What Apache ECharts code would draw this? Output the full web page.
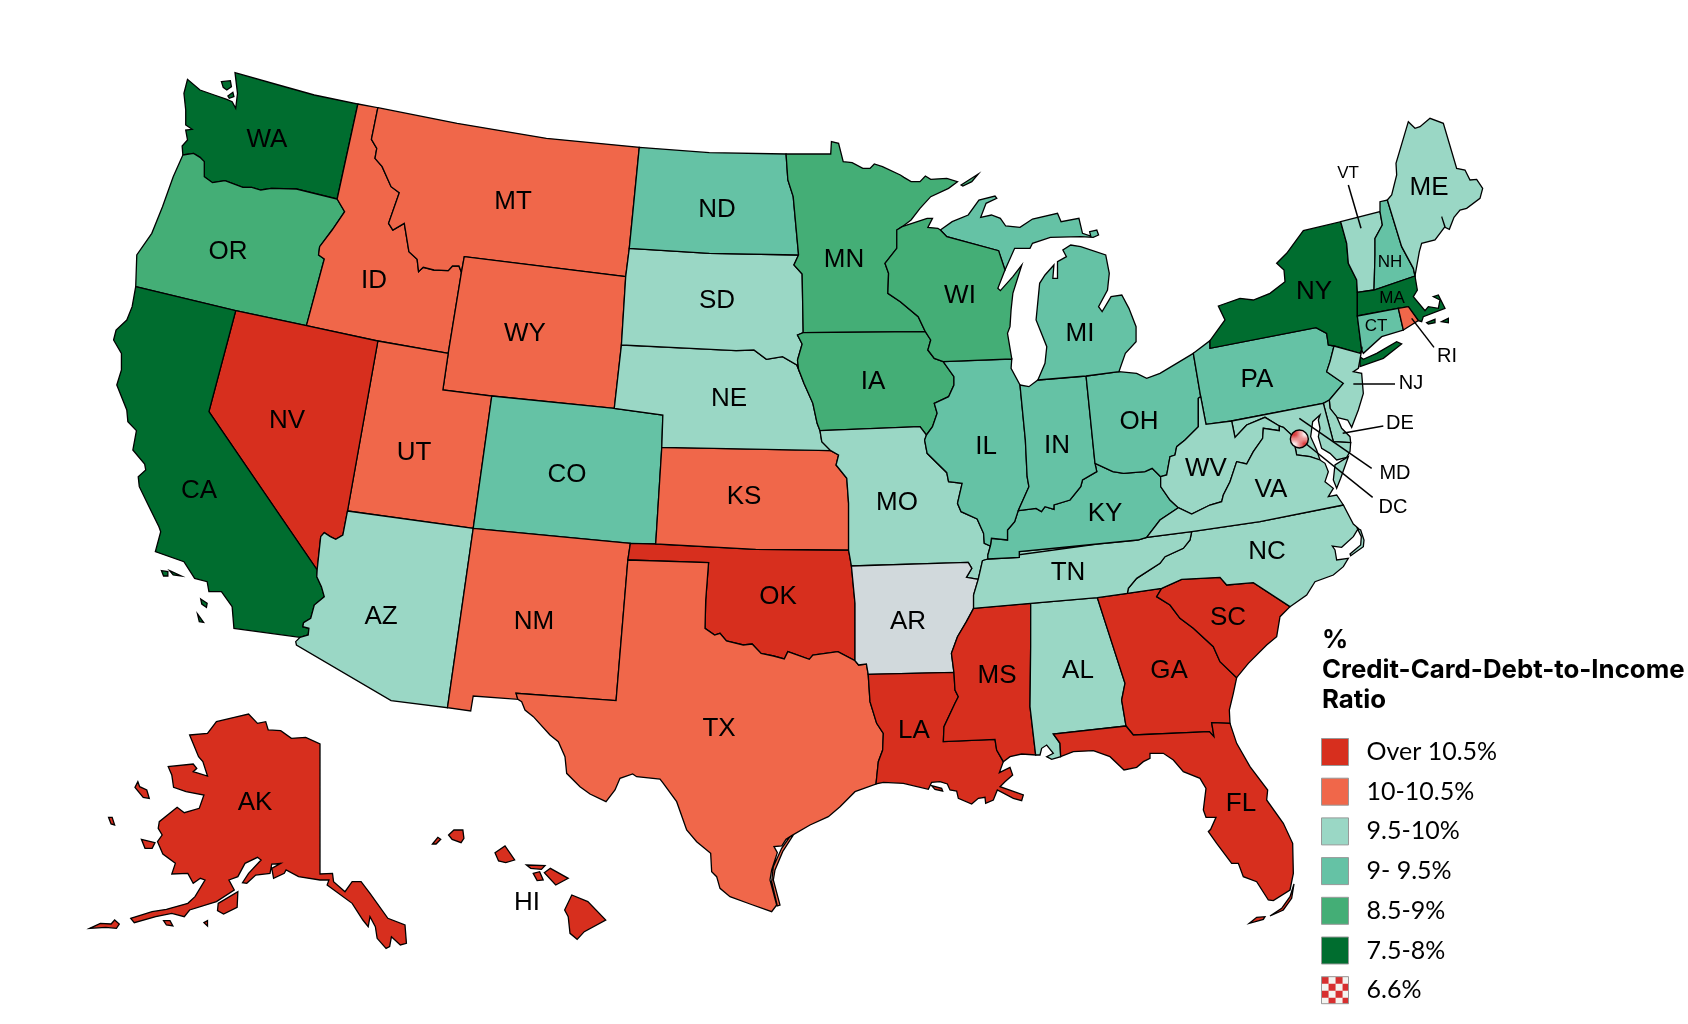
<!DOCTYPE html>
<html lang="en">
<head>
<meta charset="UTF-8">
<title>Credit-Card-Debt-to-Income Ratio</title>
<script src="https://cdn.jsdelivr.net/npm/echarts@6/dist/echarts.min.js"></script>
<style>
html,body{margin:0;padding:0;background:#fff}
#main{width:1688px;height:1024px}
</style>
</head>
<body>
<div id="main"></div>
<script>
// legend classes
var classNames = ['Over 10.5%', '10-10.5%', '9.5-10%', '9- 9.5%', '8.5-9%', '7.5-8%', '6.6%'];
var classColors = ['#d72f1e', '#f0674a', '#9ad7c5', '#65c2a5', '#44ae76', '#006d2f'];
var noDataColor = '#d1d9dc';

// states per class
var over105 = ['AK', 'HI', 'NV', 'OK', 'LA', 'MS', 'GA', 'SC', 'FL'];
var from10 = ['ID', 'MT', 'WY', 'UT', 'NM', 'TX', 'KS', 'RI'];
var from95 = ['AZ', 'SD', 'NE', 'MO', 'TN', 'AL', 'NC', 'VA', 'WV', 'NJ', 'DE', 'MD', 'VT', 'ME'];
var from9 = ['ND', 'CO', 'IL', 'IN', 'OH', 'KY', 'MI', 'PA', 'NH', 'CT'];
var from85 = ['OR', 'MN', 'IA', 'WI'];
var from75 = ['WA', 'CA', 'NY', 'MA'];
var noData = ['AR'];

// outlines are traced from enlarged tiles: [left, top, scaleX, scaleY]
var tiles = {
    a: [100, 60, 2.8, 3], b: [100, 380, 2.8, 3], c: [620, 120, 2.8, 3], d: [620, 440, 2.8, 3],
    e: [1130, 100, 3, 3], f: [1120, 340, 3, 3], g: [500, 680, 3, 3], h: [840, 580, 3, 3], i: [70, 700, 2.8, 3]
};

// shared borders
var arcs = {
    wa_n: 'a 378,38 500,75 600,105 722,132',
    wa_id: 'a 722,132 664,417',
    wa_or: 'a 664,417 550,387 480,385 450,390 425,382 400,382 350,362 315,368 292,350 292,305 280,292 262,280 232,285',
    wa_coast: 'a 232,285 230,258 245,240 240,210 258,208 240,195 240,150 235,100 245,58 280,90 320,105 355,118 370,125 380,145 385,100 378,38',
    or_coast: 'a 232,285 205,350 175,440 145,520 103,585 100,680',
    or_ca: 'a 100,680 380,752',
    or_nv: 'a 380,752 578,797',
    or_id: 'a 664,417 685,455 650,510 615,560 612,585 628,597 578,797',
    id_n: 'a 722,132 778,143',
    id_mt: 'a 778,143 760,238 775,265 770,295 790,320 815,380 838,398 808,490 820,510 852,490 865,575 888,598 892,635 905,622 935,630 975,632 987,618 1005,618 1012,637',
    wy_id_top: 'a 1020,590 1012,637',
    id_wy: 'a 1012,637 975,880',
    id_nv: 'a 578,797 778,843',
    id_ut: 'a 778,843 975,880',
    mt_n: 'a 778,143 1000,190 1250,235 1510,262',
    mt_nd: 'a 1510,262 1482,565',
    mt_sd: 'a 1482,565 1472,650',
    mt_wy: 'a 1020,590 1472,650',
    wy_sd: 'a 1472,650 1460,855',
    wy_ne: 'b 1460,-105 1440,85',
    ut_wy_v: 'a 975,880 960,990',
    ut_wy: 'b 962,30 1097,48',
    wy_co: 'b 1097,48 1440,85',
    co_ne: 'b 1440,85 1576,105',
    co_ks0: 'c 120,885 117,982',
    co_ks: 'd 118,22 100,312',
    co_ok: 'b 1485,490 1556,494',
    co_nm: 'b 1045,445 1485,490',
    ut_co: 'b 1097,48 1045,445',
    ut_az: 'b 693,393 1045,445',
    nv_ut: 'b 778,-117 693,393',
    nv_az: 'b 693,393 680,465 660,478 645,470 628,458 618,470 608,570',
    ca_nv: 'b 380,-208 305,95 605,570',
    ca_c1: 'a 100,680 90,740 75,780 45,810 38,840 60,880 60,930 47,975',
    ca_c2: 'b 47,25 75,90 78,125 102,152 92,210 125,252 128,270 107,290 110,320 135,375 165,440 170,455 155,515 235,545 265,595 300,605 305,635 340,635 370,680 375,745 560,772',
    ca_az: 'b 560,772 583,765 585,745 568,740 570,728 590,715 600,675 628,650 620,620 607,590 605,570',
    az_nm: 'b 1045,445 973,983',
    az_s: 'b 973,983 815,962 550,795 548,785 560,772',
    nm_ok: 'b 1485,490 1478,540',
    nm_tx: 'b 1478,540 1445,962 1165,940 1170,958',
    nm_s: 'b 1170,958 1045,948 1038,993 973,983',
    tx_ok: 'd 20,360 248,368 240,480 238,565 265,585 280,580 298,603 345,615 370,612 395,640 430,648 460,657 470,635 530,658 540,645 575,640 610,635 658,662',
    tx_ar: 'd 658,662 668,675 690,672 695,703',
    tx_la: 'h 85,283 90,365 110,430 130,460 128,510 115,545 108,612',
    tx_c1: 'h 108,612 45,635 0,680',
    tx_c2: 'g 1020,380 985,410 930,435 875,467 858,478 845,498 822,500 832,518 815,570 810,600 830,675 815,695 750,672 690,650 660,625 650,590 635,575 632,520 590,485 560,450 530,365 490,310 480,297 410,290 398,282 360,295 345,330 318,365 270,342 240,320 200,280 195,230 175,185 150,165 100,110 75,90 65,65 55,60',
    ok_ks: 'd 100,312 380,328 640,330',
    ok_mo: 'd 640,330 648,378',
    ok_ar: 'd 648,378 658,490 658,662',
    mo_ar: 'd 648,378 975,367 985,385 970,412 1003,418',
    ar_tn: 'd 1003,418 990,465 990,505',
    ar_ms: 'd 990,505 970,545 945,590 928,640 935,697',
    ar_la: 'd 935,697 695,703',
    ks_ne: 'd 118,22 590,32',
    mo_ks: 'd 640,330 640,190 635,115 605,75 612,45 590,32',
    mo_ne: 'c 560,932 565,965 590,995',
    sd_ne: 'c 3,675 325,692 375,690 410,718 455,710 495,735 500,748',
    ia_ne: 'c 500,748 515,790 540,850 552,910 560,932',
    nd_sd: 'c 25,385 250,400 500,405',
    sd_mn: 'c 500,405 487,435 510,462 513,638',
    sd_ia: 'c 513,638 497,645 510,672 497,720 500,748',
    nd_n: 'c 52,82 250,98 465,102',
    nd_mn: 'c 465,102 470,180 485,230 502,405',
    mn_n: 'c 465,102 590,102 592,65 612,70 625,125 650,128 680,145 700,145 712,132 735,140 785,165 795,172 815,185 840,185 855,168 870,178 915,175 945,185 920,205 870,230 840,265 815,300 790,320',
    mn_wi: 'c 790,320 775,330 775,385 742,430 752,460 750,520 785,545 835,590 855,635',
    mn_ia: 'c 513,638 855,635',
    ia_wi: 'c 855,635 870,660 862,690 880,715 905,725',
    ia_il: 'c 905,725 935,770 935,795 920,830 880,850 888,880 875,920 858,945',
    ia_mo: 'c 560,932 840,920',
    ia_mo2: 'c 840,920 858,945',
    mo_il1: 'c 858,945 853,960 860,1000',
    mo_il2: 'd 860,45 915,98 920,125 958,130 945,190 955,215 1000,237 1018,280 1020,310 1037,318',
    mo_ky: 'd 1037,318 1030,345 1030,357',
    tn_mo: 'd 1030,357 1015,362 1003,418',
    la_ms: 'h 335,280 345,330 355,350 345,370 312,440 310,485 465,478 470,510 490,545',
    la_coast: 'h 108,612 130,607 190,610 265,628 275,607 300,605 322,612 330,630 350,633 355,655 395,672 415,655 435,652 437,670 460,660 472,630 520,655 545,662 550,645 480,620 495,605 518,585 510,562 478,578 490,545',
    ms_tn: 'd 990,505 1150,490',
    ms_al: 'h 572,70 572,200 570,380 587,525',
    ms_coast: 'h 587,525 545,522 510,530 490,545',
    al_tn: 'h 572,70 772,53',
    al_ga: 'h 772,53 800,140 855,310 845,360 858,438',
    al_fl: 'h 858,438 640,462 660,490 662,530',
    al_coast: 'h 662,530 635,538 620,530 640,520 620,495 605,505 600,525 587,525',
    ga_tn: 'h 772,53 862,40',
    ga_nc: 'f 25,758 125,745',
    ga_sc: 'h 962,30 950,50 990,75 1020,115 1060,145 1120,200 1140,245 1190,293',
    ga_coast: 'h 1190,293 1180,340 1168,390 1170,430',
    ga_fl: 'h 1170,430 1115,428 1122,470 1108,455 880,465 858,438',
    fl_coast: 'h 662,530 700,515 760,512 810,530 852,570 890,562 910,545 930,535 930,520 970,520 1000,540 1030,575 1080,595 1098,625 1090,690 1098,712 1128,712 1112,748 1105,755 1130,790 1175,850 1195,850 1210,890 1250,905 1285,960 1300,962 1350,930 1360,880 1358,790 1330,730 1280,660 1283,630 1230,560 1190,490 1170,430',
    sc_nc: 'f 125,745 185,718 300,712 320,735 400,728 510,800',
    sc_coast: 'h 1350,78 1320,110 1310,170 1280,195 1225,250 1190,293',
    nc_coast: 'f 510,800 560,765 585,725 640,705 670,680 685,655 650,660 645,630 637,618 665,622 700,590 715,565 700,552 670,495',
    nc_va: 'f 670,495 420,545 215,575',
    nc_tn: 'f 215,575 210,600 190,625 135,650 120,670 50,715 25,745 25,758',
    tn_va: 'f 215,575 80,592',
    tn_ky: 'd 1480,290 1450,300 1118,335 1118,352 1030,357',
    ky_va: 'f 80,592 120,540 175,503',
    ky_wv: 'f 175,503 150,480 122,440 122,410',
    oh_ky: 'd 1520,110 1490,85 1470,95 1410,100 1380,95 1330,70',
    in_ky: 'd 1330,70 1335,95 1295,120 1290,140 1260,180 1215,195 1215,208 1190,200 1180,215 1165,205 1115,212',
    il_ky: 'd 1115,212 1105,245 1085,270 1085,300 1040,295 1037,318',
    il_in: 'd 1120,-165 1135,0 1140,110 1145,140 1115,212',
    il_lake: 'c 1097,717 1095,745 1120,795',
    wi_il: 'c 1097,717 905,725',
    in_lake: 'c 1120,795 1145,800 1170,780',
    in_mi: 'c 1170,780 1305,768',
    in_oh: 'd 1305,-192 1330,70',
    oh_mi: 'c 1305,768 1397,755',
    oh_lake: 'f 0,95 50,100 80,115 120,100 170,70 220,40',
    oh_pa: 'f 220,40 242,170',
    oh_wv: 'f 242,170 235,175 235,260 195,300 170,320 165,345 150,350 140,405 122,410',
    mi_lp: 'c 1397,755 1415,700 1445,665 1445,620 1425,565 1405,525 1375,530 1350,575 1340,560 1365,510 1370,460 1360,405 1290,380 1262,375 1240,390 1250,410 1225,425 1225,475 1212,475 1215,435 1190,465 1175,490 1165,600 1195,680 1190,730 1170,780',
    wi_n: 'c 790,320 860,295 875,295 862,322 890,325 897,330',
    wi_um: 'c 897,330 915,350 1060,392 1078,450',
    wi_bay: 'c 1078,450 1058,505 1065,512 1100,470 1125,435 1100,520 1095,570 1092,620 1085,640 1097,717',
    pa_lake: 'e 190,760 240,722',
    ny_pa: 'e 240,722 240,745 558,683 590,700 595,735 612,738',
    pa_nj: 'f 640,25 630,65 620,95 670,130 628,180',
    de_pa: 'f 628,180 610,190',
    pa_md: 'f 335,243 610,190',
    pa_wv: 'f 242,170 258,253 335,243',
    ny_n: 'e 240,722 285,660 265,618 330,595 370,600 420,580 465,545 462,510 440,490 470,460 520,392 632,365',
    ny_vt: 'e 632,365 650,430 655,490 680,540 682,577',
    ny_ma: 'e 682,577 682,648',
    ny_ct: 'e 682,648 695,750',
    ny_nj: 'e 695,750 690,760 612,738',
    vt_n: 'e 632,365 750,335',
    vt_nh: 'e 750,335 757,375 735,415 735,465 732,570',
    vt_ma: 'e 682,577 732,570',
    nh_top: 'e 750,335 750,305 772,300',
    nh_me: 'e 772,300 815,440 850,505 855,528',
    nh_ma: 'e 732,570 855,528',
    me_main: 'e 772,300 785,285 800,225 798,190 835,65 855,85 870,80 900,55 940,70 980,205 1005,210 1020,240 1040,238 1058,265 1050,295 1010,325 990,330 972,352 958,388 945,382 935,350 945,380 915,420 875,430 868,455 855,528',
    ma_coast: 'e 855,528 862,570 850,590 885,632 895,620 925,625 930,600 910,590 925,585 945,625 880,650 875,665 865,662',
    ma_ri: 'e 805,625 835,620 865,662',
    ma_ct: 'e 682,648 805,625',
    ct_ri: 'e 805,625 820,690',
    ct_coast: 'e 820,690 755,710 700,760 695,750',
    ri_coast: 'e 865,662 820,690',
    nj_coast: 'f 720,40 715,85 700,95 725,100 730,160 715,210 695,262 683,240 650,232 630,205',
    nj_de: 'f 630,205 628,180',
    de_md: 'f 610,190 640,305 692,308',
    de_coast: 'f 692,308 690,290 665,265 650,230 630,205',
    md_shore: 'f 692,308 690,335 680,352 650,360 630,340 605,325 595,290 600,265 595,240 600,225 578,245 572,290 590,330 600,360',
    va_md: 'f 478,258 490,262 515,285 525,320 530,345 570,350 600,360',
    wv_md: 'f 335,243 345,292 380,255 435,232 478,258',
    wv_va: 'f 478,258 478,272 430,265 428,295 400,335 380,372 350,365 330,425 310,465 305,485 270,495 215,522 175,503',
    va_coast: 'f 600,360 615,370 625,395 615,425 640,445 625,470 650,465 670,495'
};

// state rings made of the borders above, '-' walks a border backwards
var stateRings = {
    WA: 'wa_n wa_id wa_or wa_coast',
    OR: '-wa_or or_id -or_nv -or_ca -or_coast',
    ID: 'id_n id_mt id_wy -id_ut -id_nv -or_id -wa_id',
    MT: 'mt_n mt_nd mt_sd -mt_wy wy_id_top -id_mt',
    WY: 'mt_wy wy_sd wy_ne -wy_co -ut_wy -ut_wy_v -id_wy -wy_id_top',
    UT: 'id_ut ut_wy_v ut_wy ut_co -ut_az -nv_ut',
    NV: 'or_nv id_nv nv_ut nv_az -ca_nv',
    CA: 'or_ca ca_nv -ca_az -ca_c2 -ca_c1',
    AZ: 'ut_az az_nm az_s ca_az -nv_az',
    CO: 'wy_co co_ne co_ks0 co_ks -co_ok -co_nm -ut_co',
    NM: 'co_nm nm_ok nm_tx nm_s -az_nm',
    OK: 'co_ok ok_ks ok_mo ok_ar -tx_ok -nm_ok',
    TX: 'tx_ok tx_ar tx_la tx_c1 tx_c2 -nm_tx',
    KS: 'ks_ne -mo_ks -ok_ks -co_ks',
    NE: 'sd_ne ia_ne mo_ne -ks_ne -co_ks0 -co_ne -wy_ne',
    SD: 'nd_sd sd_mn sd_ia -sd_ne -wy_sd -mt_sd',
    ND: 'nd_n nd_mn -nd_sd -mt_nd',
    MN: 'mn_n mn_wi -mn_ia -sd_mn -nd_mn',
    IA: 'mn_ia ia_wi ia_il -ia_mo2 -ia_mo -ia_ne -sd_ia',
    MO: 'ia_mo ia_mo2 mo_il1 mo_il2 mo_ky tn_mo -mo_ar -ok_mo mo_ks -mo_ne',
    AR: 'mo_ar ar_tn ar_ms ar_la -tx_ar -ok_ar',
    LA: '-ar_la la_ms -la_coast -tx_la',
    MS: 'ms_tn ms_al ms_coast -la_ms -ar_ms',
    AL: 'al_tn al_ga al_fl al_coast -ms_al',
    GA: 'ga_tn ga_nc ga_sc ga_coast ga_fl -al_ga',
    FL: '-ga_fl -fl_coast -al_fl',
    SC: 'sc_nc sc_coast -ga_sc',
    NC: 'ga_nc sc_nc nc_coast nc_va nc_tn',
    TN: 'tn_mo ar_tn ms_tn al_tn ga_tn -nc_tn tn_va -tn_ky',
    KY: 'in_ky il_ky mo_ky -tn_ky ky_va ky_wv oh_ky',
    IL: 'ia_il mo_il1 mo_il2 -il_ky -il_in -il_lake wi_il',
    IN: 'in_lake in_mi in_oh in_ky -il_in',
    OH: 'oh_mi oh_lake oh_pa oh_wv oh_ky -in_oh',
    MI: 'in_mi oh_mi mi_lp',
    WI: '-mn_wi wi_n wi_um wi_bay wi_il -ia_wi',
    PA: 'pa_lake ny_pa pa_nj de_pa -pa_md -pa_wv -oh_pa',
    NY: 'ny_n ny_vt ny_ma ny_ct ny_nj -ny_pa',
    VT: 'vt_n vt_nh -vt_ma -ny_vt',
    NH: 'nh_top nh_me -nh_ma -vt_nh',
    ME: 'me_main -nh_me',
    MA: 'vt_ma nh_ma ma_coast -ma_ri -ma_ct -ny_ma',
    CT: 'ma_ct ct_ri ct_coast -ny_ct',
    RI: 'ma_ri ri_coast -ct_ri',
    NJ: '-ny_nj nj_coast nj_de -pa_nj',
    DE: 'de_pa de_md de_coast nj_de',
    MD: 'pa_md de_md md_shore -va_md -wv_md',
    WV: 'pa_wv wv_md wv_va ky_wv -oh_wv',
    VA: '-ky_va -tn_va -nc_va -va_coast -va_md wv_va'
};

// islands and other detached pieces
var extraRings = {
    WA: ['a 340,65 365,62 368,80 355,90 345,82', 'a 358,108 372,97 375,110 362,115'],
    CA: ['b 172,572 190,575 190,588 178,588', 'b 195,572 228,588 205,585', 'b 282,657 300,670 298,682 285,672', 'b 273,702 290,727 278,725'],
    TX: ['g 870,470 878,468 848,515 825,570 820,600 840,675 832,678 815,605 820,560 845,505'],
    LA: ['h 275,617 305,625 308,633 285,628'],
    FL: ['h 1228,1030 1250,1012 1275,1010 1270,1018', 'h 1290,1008 1325,985 1350,950 1362,912 1355,955 1330,990'],
    NC: ['f 712,565 722,570 732,600 730,620 692,647 690,642 722,615 724,590'],
    VA: ['f 685,350 645,375 640,420 650,445 662,415'],
    NY: ['e 690,770 700,778 740,760 800,725 815,732 760,775 690,800'],
    MA: ['e 890,668 915,658 915,668 895,672', 'e 935,665 955,655 955,668'],
    MN: ['c 955,195 1003,162 985,185 960,198'],
    MI: ['c 897,330 930,305 975,285 1005,240 1050,228 1055,235 1025,250 1010,292 1040,285 1065,295 1080,318 1120,322 1155,297 1225,280 1235,305 1285,295 1295,340 1318,348 1315,335 1335,330 1340,345 1325,352 1290,350 1205,352 1155,370 1148,385 1105,385 1078,450 1060,392 915,350'],
    HI: ['i 1015,432 1030,412 1038,418 1025,432', 'i 1060,405 1075,390 1100,390 1103,415 1095,428 1070,418', 'i 1190,458 1218,438 1245,480 1220,488 1200,483', 'i 1278,495 1330,497 1320,508 1290,505', 'i 1297,520 1315,515 1325,540 1308,542', 'i 1328,518 1345,505 1395,535 1360,555', 'i 1385,630 1405,585 1450,605 1500,660 1440,695 1420,718 1400,700 1395,650'],
    AK: ['i 335,105 385,100 410,65 460,52 500,42 525,70 548,65 555,90 590,92 620,115 660,112 700,132 700,522 735,520 738,545 770,575 790,545 815,545 840,580 890,655 938,675 942,730 925,735 900,710 895,740 885,745 860,715 855,680 840,650 835,680 820,660 790,610 720,555 725,540 700,540 640,530 605,510 600,520 570,535 565,505 590,490 565,492 560,520 520,525 495,550 483,548 500,520 535,480 525,472 490,490 470,530 445,540 460,570 410,605 335,630 320,650 285,640 240,650 180,668 170,655 230,635 270,628 330,610 350,590 378,540 365,535 345,550 330,520 285,522 295,490 260,462 245,425 258,405 247,385 250,365 300,322 320,338 362,325 375,285 325,275 290,262 285,225 275,200 345,192 355,205 345,215 385,228 372,185 360,170',
        'i 415,610 470,575 468,622 430,642 413,632', 'i 182,262 190,245 195,260 215,270 222,295 205,292', 'i 200,418 238,428 230,445 210,445', 'i 108,352 118,352 125,375 115,372', 'i 55,685 85,670 115,672 125,660 138,672 130,685 100,682', 'i 262,662 280,662 288,678 270,675', 'i 375,668 385,662 385,678']
};

// text anchors
var bigLabels = {
    WA: [267, 138], OR: [228, 250], CA: [199, 489], NV: [287, 419], ID: [374, 279], MT: [513, 200], WY: [525, 332], UT: [414, 451], CO: [567, 473],
    AZ: [381, 615], NM: [534, 620], ND: [717, 208], SD: [717, 299], NE: [729, 397], KS: [744, 495], OK: [778, 595], TX: [719, 727], MN: [844, 258],
    IA: [873, 380], MO: [897, 501], AR: [908, 620], LA: [914, 729], WI: [960, 294], IL: [986, 445], MI: [1080, 332], IN: [1057, 444], OH: [1139, 420],
    KY: [1105, 512], TN: [1068, 571], MS: [997, 674], AL: [1078, 669], GA: [1169, 669], FL: [1241, 802], SC: [1228, 616], NC: [1267, 550], VA: [1271, 488],
    WV: [1206, 467], PA: [1257, 378], NY: [1314, 290], ME: [1429, 186], AK: [255, 801], HI: [527, 901]
};
var sideLabels = { RI: [1447, 355], NJ: [1411, 382], DE: [1400, 422], MD: [1395, 472], DC: [1393, 506] };
var smallLabels = { VT: [1348, 172], NH: [1390, 261], MA: [1392, 297], CT: [1376, 325] };
var leaderLines = ['e 655,255 693,385', 'e 845,655 912,742', 'f 700,132 825,132', 'f 668,280 790,258', 'f 538,235 755,385', 'f 540,297 758,472'];
var dcPoint = 'f 538,297';

function parsePoints(text) {
    var parts = text.split(' ');
    var t = tiles[parts[0]];
    return parts.slice(1).map(function (p) {
        var xy = p.split(',');
        return [t[0] + xy[0] / t[2], t[1] + xy[1] / t[3]];
    });
}

// snap the ends of borders so that neighbours meet on the same node
var nodes = [];
function snap(pt) {
    for (var i = 0; i < nodes.length; i++) {
        if (Math.hypot(nodes[i][0] - pt[0], nodes[i][1] - pt[1]) < 5) return nodes[i];
    }
    nodes.push(pt);
    return pt;
}
var arcPoints = {};
Object.keys(arcs).forEach(function (name) {
    var pts = parsePoints(arcs[name]);
    pts[0] = snap(pts[0]);
    pts[pts.length - 1] = snap(pts[pts.length - 1]);
    arcPoints[name] = pts;
});

function buildRing(spec) {
    var ring = [];
    spec.split(' ').forEach(function (name) {
        var back = name.charAt(0) === '-';
        var pts = arcPoints[back ? name.slice(1) : name].slice();
        if (back) pts.reverse();
        ring = ring.concat(pts);
    });
    ring.push(ring[0]);
    return ring;
}

function closed(text) {
    var pts = parsePoints(text);
    pts.push(pts[0]);
    return pts;
}

var codes = Object.keys(stateRings).concat(['AK', 'HI']);
var features = codes.map(function (code) {
    var polys = [];
    if (stateRings[code]) polys.push([buildRing(stateRings[code])]);
    (extraRings[code] || []).forEach(function (t) { polys.push([closed(t)]); });
    return {
        type: 'Feature',
        properties: { name: code },
        geometry: { type: 'MultiPolygon', coordinates: polys }
    };
});
echarts.registerMap('usa', { type: 'FeatureCollection', features: features });

// checker fill for the 6.6% class
function checker(cell, dark, light) {
    var c = document.createElement('canvas');
    c.width = c.height = cell * 2;
    var g = c.getContext('2d');
    g.fillStyle = light;
    g.fillRect(0, 0, cell * 2, cell * 2);
    g.fillStyle = dark;
    g.fillRect(0, 0, cell, cell);
    g.fillRect(cell, cell, cell, cell);
    return { image: c, repeat: 'repeat' };
}

var regionStyles = [];
[over105, from10, from95, from9, from85, from75].forEach(function (list, k) {
    list.forEach(function (code) {
        regionStyles.push({ name: code, itemStyle: { areaColor: classColors[k] } });
    });
});
noData.forEach(function (code) {
    regionStyles.push({ name: code, itemStyle: { areaColor: noDataColor } });
});

var labelData = [];
function addLabels(group, size) {
    Object.keys(group).forEach(function (code) {
        labelData.push({ name: code, value: group[code], label: { fontSize: size } });
    });
}
addLabels(bigLabels, 26);
addLabels(sideLabels, 20);
addLabels(smallLabels, 17);

var legendSeries = classNames.map(function (name, k) {
    return {
        name: name,
        type: 'scatter',
        coordinateSystem: 'geo',
        symbol: 'rect',
        data: [],
        itemStyle: { opacity: 1, color: k < 6 ? classColors[k] : checker(7, '#d72f2f', '#f4f4f0') }
    };
});

var myChart = echarts.init(document.getElementById('main'), null, { renderer: 'canvas' });
myChart.setOption({
    animation: false,
    backgroundColor: '#fff',
    title: {
        text: '%\nCredit-Card-Debt-to-Income\nRatio',
        left: 1322,
        top: 625,
        padding: 0,
        textStyle: { fontFamily: 'Inter', fontWeight: 'bold', fontSize: 25.8, lineHeight: 30, color: '#000' }
    },
    legend: {
        orient: 'vertical',
        left: 1321,
        top: 738,
        padding: 0,
        data: classNames,
        icon: 'rect',
        itemWidth: 27,
        itemHeight: 27,
        itemGap: 11.7,
        selectedMode: false,
        itemStyle: { borderColor: '#999', borderWidth: 1, opacity: 1 },
        textStyle: { fontFamily: 'Lato', fontSize: 25, lineHeight: 24, color: '#000', padding: [0, 0, 0, 13] }
    },
    geo: {
        map: 'usa',
        left: 0,
        top: 0,
        width: 1688,
        height: 1024,
        boundingCoords: [[0, 0], [1688, 1024]],
        projection: {
            project: function (p) { return p; },
            unproject: function (p) { return p; }
        },
        roam: false,
        silent: true,
        label: { show: false },
        itemStyle: { borderColor: '#000', borderWidth: 1.3, areaColor: noDataColor },
        emphasis: { disabled: true },
        regions: regionStyles
    },
    series: [
        {
            type: 'lines',
            coordinateSystem: 'geo',
            silent: true,
            lineStyle: { color: '#000', width: 1.5, opacity: 1 },
            data: leaderLines.map(function (t) { return { coords: parsePoints(t) }; }),
            z: 3
        },
        {
            type: 'scatter',
            coordinateSystem: 'geo',
            silent: true,
            symbol: 'circle',
            symbolSize: 18,
            z: 4,
            itemStyle: { opacity: 1, color: checker(2, '#dc3c3c', '#fbeeee'), borderColor: '#000', borderWidth: 1.4 },
            data: [{ name: 'DC', value: parsePoints(dcPoint)[0] }]
        },
        {
            type: 'scatter',
            coordinateSystem: 'geo',
            silent: true,
            symbol: 'circle',
            symbolSize: 1,
            z: 5,
            itemStyle: { opacity: 1, color: 'transparent' },
            label: {
                show: true,
                position: 'inside',
                formatter: '{b}',
                color: '#000',
                offset: [0, 1.5],
                fontFamily: 'Liberation Sans'
            },
            data: labelData
        }
    ].concat(legendSeries)
});
</script>
</body>
</html>
